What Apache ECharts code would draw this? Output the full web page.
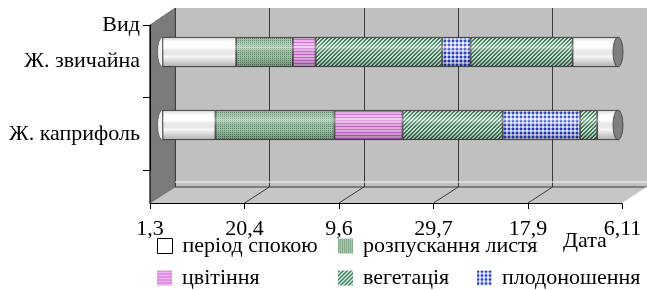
<!DOCTYPE html>
<html lang="uk">
<head>
<meta charset="UTF-8">
<title>Фенологічні фази жимолості</title>
<script src="https://cdn.jsdelivr.net/npm/echarts@6/dist/echarts.min.js"></script>
<style>
  html, body { margin: 0; padding: 0; background: #fff; }
  #chart { width: 647px; height: 290px; }
</style>
</head>
<body>
<div id="chart"></div>
<script>
// види, зверху вниз
var species = ['Ж. звичайна', 'Ж. каприфоль'];
// підписи осі дат (крок 50 днів від 1 березня)
var dateLabels = ['1,3', '20,4', '9,6', '29,7', '17,9', '6,11'];
var dayStep = 50;
var dayMax = 250;

// тривалість фаз у днях, для кожного виду
var rest1   = [39, 28];
var leafOut = [30, 63];
var bloom   = [12, 36];
var veg1    = [67, 53];
var fruit   = [15, 41];
var veg2    = [54, 9];
var rest2   = [24, 11];

var phaseNames = ['період спокою', 'розпускання листя', 'цвітіння', 'вегетація', 'плодоношення'];

var font = "'Liberation Serif', 'Times New Roman', serif";
var barW = 30;

// --- штрихування як у Excel ---
function pattern(w, h, pix) {
  var c = document.createElement('canvas');
  c.width = w; c.height = h;
  var g = c.getContext('2d');
  for (var x = 0; x < w; x++) {
    for (var y = 0; y < h; y++) {
      g.fillStyle = pix(x, y);
      g.fillRect(x, y, 1, 1);
    }
  }
  return { image: c, repeat: 'repeat' };
}
var fills = {
  rest: '#ffffff',
  leaf: pattern(4, 4, function (x, y) {
    return ((x + y) % 2 === 0 && x % 2 === 0) ? '#668f70' : '#a6c9ab';
  }),
  bloom: pattern(4, 3, function (x, y) {
    return y === 0 ? '#cf6ed6' : '#eeb4ef';
  }),
  veg: pattern(4, 4, function (x, y) {
    return ((x + y) % 4 < 2) ? '#417e5d' : '#d6eddd';
  }),
  fruit: pattern(4, 4, function (x, y) {
    if (x < 2 && y < 2) return '#2341d2';
    if (x < 2 || y < 2) return '#a9b5f0';
    return '#f6f8ff';
  })
};

var phases = [
  { name: phaseNames[0], data: rest1,   fill: fills.rest },
  { name: phaseNames[1], data: leafOut, fill: fills.leaf },
  { name: phaseNames[2], data: bloom,   fill: fills.bloom },
  { name: phaseNames[3], data: veg1,    fill: fills.veg },
  { name: phaseNames[4], data: fruit,   fill: fills.fruit },
  { name: phaseNames[3], data: veg2,    fill: fills.veg },
  { name: phaseNames[0], data: rest2,   fill: fills.rest }
];

// сума фаз = довжина циліндра
var totals = species.map(function (s, i) {
  return [i, phases.reduce(function (acc, p) { return acc + p.data[i]; }, 0)];
});

var chart = echarts.init(document.getElementById('chart'));

// тіні циліндра та торці
function renderCylinder(params, api) {
  var cat = api.value(0);
  var p0 = api.coord([0, cat]);
  var p1 = api.coord([api.value(1), cat]);
  var half = barW / 2, rx = 5;
  var top = p0[1] - half, bot = p0[1] + half;
  return {
    type: 'group',
    children: [
      {
        type: 'rect',
        shape: { x: p0[0], y: top, width: p1[0] - p0[0], height: barW },
        style: {
          fill: {
            type: 'linear', x: 0, y: 0, x2: 0, y2: 1,
            colorStops: [
              { offset: 0, color: 'rgba(0,0,0,0.25)' },
              { offset: 0.18, color: 'rgba(255,255,255,0.05)' },
              { offset: 0.35, color: 'rgba(255,255,255,0.35)' },
              { offset: 0.65, color: 'rgba(0,0,0,0.03)' },
              { offset: 1, color: 'rgba(0,0,0,0.32)' }
            ]
          }
        }
      },
      {
        type: 'path',
        shape: {
          pathData: 'M' + p0[0] + ' ' + top + ' A' + rx + ' ' + half + ' 0 0 0 ' + p0[0] + ' ' + bot + ' Z'
        },
        style: { fill: '#f2f2f2', stroke: '#555', lineWidth: 0.8 }
      },
      {
        type: 'path',
        shape: {
          pathData: 'M' + p1[0] + ' ' + top +
            ' A' + rx + ' ' + half + ' 0 0 1 ' + p1[0] + ' ' + bot +
            ' A' + rx + ' ' + half + ' 0 0 1 ' + p1[0] + ' ' + top + ' Z'
        },
        style: { fill: '#7f7f7f', stroke: '#3c3c3c', lineWidth: 0.8 }
      }
    ]
  };
}

function legendAt(idx, left, top, style) {
  return {
    data: [phaseNames[idx]],
    left: left, top: top, padding: 0,
    icon: 'rect', itemWidth: 15, itemHeight: 15,
    selectedMode: false,
    itemStyle: style || { borderWidth: 0 },
    textStyle: { fontFamily: font, fontSize: 22, color: '#000', padding: [0, 0, 0, 5] }
  };
}

var series = phases.map(function (p) {
  return {
    type: 'bar', name: p.name, stack: 'phase',
    xAxisIndex: 1, yAxisIndex: 1,
    barWidth: barW,
    data: p.data,
    itemStyle: { color: p.fill, borderColor: '#3c3c3c', borderWidth: 0.8 },
    emphasis: { disabled: true }
  };
});
series.push({
  type: 'custom', xAxisIndex: 1, yAxisIndex: 1, z: 3, silent: true,
  encode: { x: 1, y: 0 },
  data: totals,
  renderItem: renderCylinder
});

chart.setOption({
  animation: false,
  textStyle: { fontFamily: font },
  title: {
    text: 'Дата', left: 563, top: 230, padding: 0,
    textStyle: { fontFamily: font, fontSize: 22, fontWeight: 'normal', color: '#000' }
  },
  grid: [
    // задня стінка
    { left: 175, top: 8, width: 472.5, height: 179, show: true, backgroundColor: '#c0c0c0', borderWidth: 0 },
    // циліндри
    { left: 162.5, top: 15.5, width: 472.5, height: 146 },
    // передня вісь дат
    { left: 150, top: 25, width: 472.5, height: 178 },
    // передня вісь видів
    { left: 150, top: 25, width: 472.5, height: 145 }
  ],
  xAxis: [
    {
      gridIndex: 0, type: 'value', min: 0, max: dayMax, interval: dayStep,
      axisLine: { show: false }, axisTick: { show: false }, axisLabel: { show: false },
      splitLine: { show: true, lineStyle: { color: '#3a3a3a', width: 1 } }
    },
    { gridIndex: 1, type: 'value', min: 0, max: dayMax, show: false },
    {
      gridIndex: 2, type: 'value', min: 0, max: dayMax, interval: dayStep,
      axisLine: { show: true, lineStyle: { color: '#000', width: 1 } },
      axisTick: { show: true, length: 6, lineStyle: { color: '#000' } },
      splitLine: { show: false },
      axisLabel: {
        margin: 15, fontFamily: font, fontSize: 22, color: '#000',
        formatter: function (v) { return dateLabels[Math.round(v / dayStep)]; }
      }
    },
    { gridIndex: 3, type: 'value', min: 0, max: dayMax, show: false }
  ],
  yAxis: [
    { gridIndex: 0, type: 'value', show: false },
    { gridIndex: 1, type: 'category', data: species, inverse: true, show: false },
    { gridIndex: 2, type: 'value', show: false },
    {
      gridIndex: 3, type: 'category', data: species, inverse: true,
      axisLine: { show: true, lineStyle: { color: '#000', width: 1 } },
      axisTick: { show: true, length: 7, lineStyle: { color: '#000' } },
      axisLabel: { margin: 10, fontFamily: font, fontSize: 22, color: '#000' },
      name: 'Вид', nameLocation: 'start', nameGap: 0,
      nameTextStyle: { fontFamily: font, fontSize: 22, color: '#000', align: 'right', verticalAlign: 'middle', padding: [0, 10, 0, 0] }
    }
  ],
  legend: [
    legendAt(0, 157, 235, { borderColor: '#000', borderWidth: 1 }),
    legendAt(1, 338, 235),
    legendAt(2, 157, 267),
    legendAt(3, 338, 267),
    legendAt(4, 477, 267)
  ],
  series: series
});

// бічна стінка, підлога та лінії підлоги — від положення осей
function drawFrame() {
  var back0 = chart.convertToPixel({ xAxisIndex: 0 }, 0);
  var backEnd = chart.convertToPixel({ xAxisIndex: 0 }, dayMax);
  var front0 = chart.convertToPixel({ xAxisIndex: 2 }, 0);
  var frontEnd = chart.convertToPixel({ xAxisIndex: 2 }, dayMax);
  var wallTop = 8, wallBot = 187, frontTop = 25, frontBot = 203;
  var els = [
    { type: 'polygon', z: -1, shape: { points: [[front0, frontBot], [back0, wallBot], [backEnd, wallBot], [frontEnd, frontBot]] }, style: { fill: '#c6c6c6' } },
    { type: 'polygon', z: 0, shape: { points: [[front0, frontTop], [back0, wallTop], [back0, wallBot], [front0, frontBot]] }, style: { fill: '#7b7b7b', stroke: '#555', lineWidth: 0.6 } },
    { type: 'line', z: 1, shape: { x1: back0, y1: wallBot - 5, x2: backEnd, y2: wallBot - 5 }, style: { stroke: '#f4f4f4', lineWidth: 1.2 } },
    { type: 'line', z: 1, shape: { x1: back0, y1: wallBot, x2: backEnd, y2: wallBot }, style: { stroke: '#3a3a3a', lineWidth: 1 } },
    { type: 'line', z: 1, shape: { x1: front0, y1: frontTop, x2: front0, y2: frontBot }, style: { stroke: '#000', lineWidth: 1 } }
  ];
  for (var v = dayStep; v <= dayMax; v += dayStep) {
    var b = chart.convertToPixel({ xAxisIndex: 0 }, v);
    var f = chart.convertToPixel({ xAxisIndex: 2 }, v);
    els.push({ type: 'line', z: 1, shape: { x1: b, y1: wallBot, x2: f, y2: frontBot }, style: { stroke: v === dayMax ? '#f4f4f4' : '#3a3a3a', lineWidth: 1 } });
  }
  chart.setOption({ graphic: els });
}
drawFrame();
</script>
</body>
</html>
